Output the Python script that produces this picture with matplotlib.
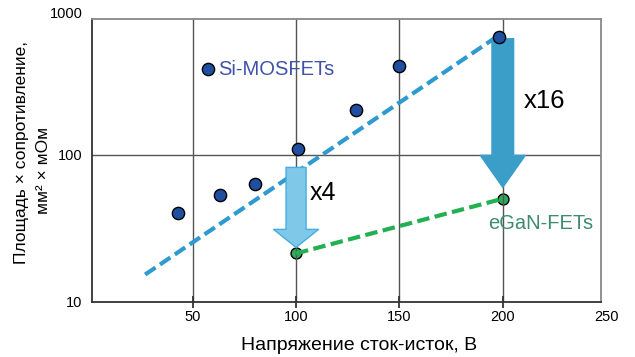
import matplotlib
matplotlib.use("Agg")
import matplotlib.pyplot as plt
from matplotlib.patches import FancyArrowPatch, ArrowStyle
from matplotlib.ticker import NullLocator

plt.rcParams['font.family'] = ['Liberation Sans', 'DejaVu Sans']

# Si-MOSFET data: breakdown voltage (V) vs. area x on-resistance
si_v = [43, 57.5, 63, 80, 101, 129, 150, 198]
si_r = [40, 380, 53, 63.5, 109, 200, 400, 630]

# Si trend line end points
si_trend_v = [27, 196]
si_trend_r = [15.3, 620]

# eGaN-FET data
gan_v = [100, 200]
gan_r = [21.3, 50.2]

# improvement arrows: (x, start, end, label)
arrow_small = (100, 82, 23.4, "x4")
arrow_big = (200, 615, 60, "x16")

x_ticks = [50, 100, 150, 200]
x_tick_labels = ["50", "100", "150", "200"]
y_ticks = [10, 100]
y_tick_labels = ["10", "100"]

fig = plt.figure(figsize=(6.35, 3.57), dpi=100)
ax = fig.add_axes([92/635, (357-301.7)/357, (601-92)/635, (301.7-19)/357])
ax.set_yscale('log')
ax.set_xlim(1.3, 247.5)
ax.set_ylim(10, 838)

# grid
for xv in x_ticks:
    ax.axvline(xv, color='#555555', lw=1.0, zorder=1)
ax.axhline(100, color='#555555', lw=1.0, zorder=1)

# trend lines
ax.plot(si_trend_v, si_trend_r, color='#2F9AD0', lw=3.0, dashes=(3.0, 1.3),
        dash_capstyle='butt', zorder=2)
ax.plot(gan_v, gan_r, color='#22B052', lw=3.0, dashes=(3.0, 1.3),
        dash_capstyle='butt', zorder=2)

# arrows
def draw_arrow(spec, face, edge, tail_w, head_w, head_l):
    x, y0, y1, _ = spec
    style = ArrowStyle.Simple(head_length=head_l, head_width=head_w, tail_width=tail_w)
    p = FancyArrowPatch((x, y0), (x, y1), arrowstyle=style, mutation_scale=1,
                        shrinkA=0, shrinkB=0, facecolor=face, edgecolor=edge,
                        lw=1.0, zorder=4)
    ax.add_patch(p)

draw_arrow(arrow_small, '#80C8E8', '#45AEDF', 14.4, 32.4, 13.0)
draw_arrow(arrow_big, '#3A9EC9', '#3A9EC9', 15.6, 32.4, 23.0)

# markers
ax.scatter(gan_v, gan_r, s=62, color='#2DAA5A', edgecolor='black', lw=1.0, zorder=0.5)
ax.scatter(si_v, si_r, s=78, color='#1F4F9E', edgecolor='black', lw=1.0, zorder=5)

# annotations
ax.text(62.5, 380, "Si-MOSFETs", color='#4152A8', fontsize=14.5, va='center', ha='left', zorder=6)
ax.text(218.5, 34.3, "eGaN-FETs", color='#3D8C70', fontsize=14.5, va='center', ha='center', zorder=6)
ax.text(106.5, 54.5, arrow_small[3], fontsize=18, va='center', ha='left', zorder=6)
ax.text(210, 231, arrow_big[3], fontsize=18.5, va='center', ha='left', zorder=6)

# axes styling
for side in ['left', 'bottom']:
    ax.spines[side].set_color('#333333')
    ax.spines[side].set_linewidth(1.3)
for side in ['top', 'right']:
    ax.spines[side].set_color('#888888')
    ax.spines[side].set_linewidth(1.3)

ax.set_xticks(x_ticks)
ax.set_xticklabels(x_tick_labels)
ax.tick_params(axis='x', direction='inout', length=8.5, width=1.3, color='#333333',
               labelsize=10.5, pad=2)
ax.set_yticks(y_ticks)
ax.set_yticklabels(y_tick_labels)
ax.yaxis.set_minor_locator(NullLocator())
ax.tick_params(axis='y', length=0, labelsize=10.5, pad=7)
ax.annotate("250", xy=(250, 10), xytext=(0, -6.25), textcoords='offset points',
            ha='center', va='top', fontsize=10.5, annotation_clip=False)
ax.annotate("1000", xy=(0, 1000), xycoords=('axes fraction', 'data'), xytext=(-7, -4.8),
            textcoords='offset points', ha='right', va='center', fontsize=10.5,
            annotation_clip=False)

fig.text(359.5/635, 1 - 345/357, "Напряжение сток-исток, В", ha='center', va='center', fontsize=14)
fig.text(22/635, 1 - 153/357, "Площадь × сопротивление,", rotation=90, ha='center', va='center', fontsize=12.5)
fig.text(43/635, 1 - 170/357, "мм² × мОм", rotation=90, ha='center', va='center', fontsize=12.5)

fig.savefig("out.png", dpi=100)
